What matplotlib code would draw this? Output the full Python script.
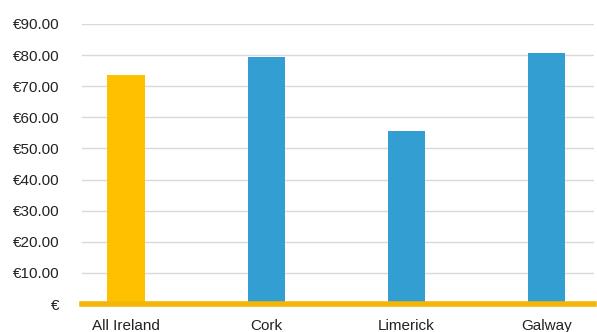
import matplotlib
matplotlib.use("Agg")
import matplotlib.pyplot as plt
from matplotlib.ticker import FuncFormatter

categories = ["All Ireland", "Cork", "Limerick", "Galway"]
values = [73.6, 79.5, 55.7, 80.7]
colors = ["#FFC000", "#329ED2", "#329ED2", "#329ED2"]
yticks = [0, 10, 20, 30, 40, 50, 60, 70, 80, 90]

plt.rcParams['font.family'] = ['Liberation Sans', 'DejaVu Sans']

fig = plt.figure(figsize=(5.97, 3.32), dpi=100)
ax = fig.add_axes([82/597, 1-304/332, (594-82)/597, 280/332])

x = list(range(len(categories)))
ax.bar(x, values, width=0.265, color=colors, zorder=3)
ax.set_xlim(-0.314, 3.336)
ax.set_ylim(0, 90)
ax.set_yticks(yticks)
ax.yaxis.set_major_formatter(FuncFormatter(lambda v, p: "€" if v == 0 else f"€{v:.2f}"))
ax.set_xticks(x)
ax.set_xticklabels(categories)
ax.grid(axis='y', color='#D9D9D9', linewidth=1, zorder=0)
for s in ['top', 'right', 'left']:
    ax.spines[s].set_visible(False)
ax.spines['bottom'].set_color('#F2B705')
ax.spines['bottom'].set_linewidth(4)
ax.spines['bottom'].set_zorder(4)
ax.tick_params(axis='both', length=0, labelsize=11, colors='#222222')
ax.tick_params(axis='y', pad=16)
ax.tick_params(axis='x', pad=11)

fig.savefig("out.png", dpi=100)
